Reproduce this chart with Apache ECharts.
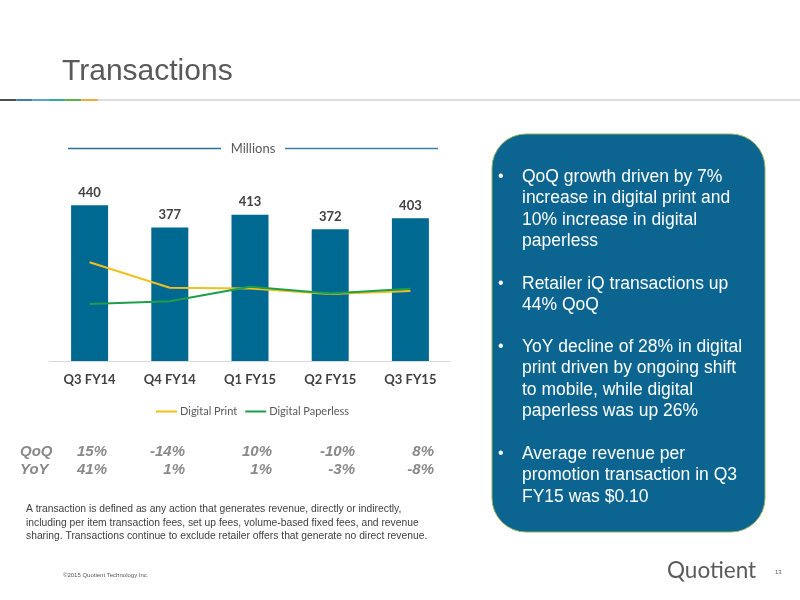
<!DOCTYPE html>
<html>
<head>
<meta charset="utf-8">
<title>Transactions</title>
<script src="https://cdn.jsdelivr.net/npm/echarts@6/dist/echarts.min.js"></script>
<style>
  html, body { margin: 0; padding: 0; background: #fff; }
  #chart { width: 800px; height: 600px; }
</style>
</head>
<body>
<div id="chart"></div>
<script>
// chart data
const quarters = ['Q3 FY14', 'Q4 FY14', 'Q1 FY15', 'Q2 FY15', 'Q3 FY15'];
const transactions = [440, 377, 413, 372, 403];
const digitalPrint = [279, 207, 205, 189, 198];
const digitalPaperless = [161, 169, 210, 191, 204];
const qoq = ['15%', '-14%', '10%', '-10%', '8%'];
const yoy = ['41%', '1%', '1%', '-3%', '-8%'];

const bullets = [
  'QoQ growth driven by 7%\nincrease in digital print and\n10% increase in digital\npaperless',
  'Retailer iQ transactions up\n44% QoQ',
  'YoY decline of 28% in digital\nprint driven by ongoing shift\nto mobile, while digital\npaperless was up 26%',
  'Average revenue per\npromotion transaction in Q3\nFY15 was $0.10'
];

const footnote = 'A transaction is defined as any action that generates revenue, directly or indirectly,\n' +
  'including per item transaction fees, set up fees, volume-based fixed fees, and revenue\n' +
  'sharing. Transactions continue to exclude retailer offers that generate no direct revenue.';

// layout
const GRID_LEFT = 49.5;
const GRID_WIDTH = 401;
const GRID_TOP = 184;
const GRID_HEIGHT = 177;
// right edges of the QoQ / YoY columns under each quarter
const pctRight = [107, 185, 272, 355, 434];

const SANS = '"Liberation Sans", Arial, sans-serif';
const CHART_FONT = 'Lato, "Open Sans", sans-serif';
const PCT_FONT = 'italic bold 15px ' + SANS;

const graphic = [];

// slide title and coloured rule
graphic.push({
  type: 'text', left: 62, top: 57,
  style: { text: 'Transactions', font: '30px ' + SANS, fill: '#595959' }
});
graphic.push({
  type: 'rect', shape: { x: 97, y: 99, width: 703, height: 2 },
  style: { fill: '#dcdde0' }
});
['#4b4f54', '#3d7cb6', '#5aa5c9', '#3aa99b', '#5fb04b', '#f2a93b'].forEach((c, i) => {
  graphic.push({
    type: 'rect', shape: { x: i * 16.3, y: 99, width: 16.3, height: 2 },
    style: { fill: c }
  });
});

// "Millions" header with side lines
graphic.push({
  type: 'line', shape: { x1: 68, y1: 148.5, x2: 221, y2: 148.5 },
  style: { stroke: '#2f6f94', lineWidth: 1.3 }
});
graphic.push({
  type: 'line', shape: { x1: 285, y1: 148.5, x2: 438, y2: 148.5 },
  style: { stroke: '#3a7fa3', lineWidth: 1.3 }
});
graphic.push({
  type: 'text', x: 253, y: 148.5,
  style: { text: 'Millions', font: '13px ' + CHART_FONT, fill: '#595959', align: 'center', verticalAlign: 'middle' }
});

// QoQ / YoY rows
graphic.push({
  type: 'text', x: 20, y: 451.5,
  style: { text: 'QoQ', font: PCT_FONT, fill: '#898989', verticalAlign: 'middle' }
});
graphic.push({
  type: 'text', x: 20, y: 470,
  style: { text: 'YoY', font: PCT_FONT, fill: '#898989', verticalAlign: 'middle' }
});
quarters.forEach((q, i) => {
  graphic.push({
    type: 'text', x: pctRight[i], y: 451.5,
    style: { text: qoq[i], font: PCT_FONT, fill: '#898989', align: 'right', verticalAlign: 'middle' }
  });
  graphic.push({
    type: 'text', x: pctRight[i], y: 470,
    style: { text: yoy[i], font: PCT_FONT, fill: '#898989', align: 'right', verticalAlign: 'middle' }
  });
});

// definition footnote
graphic.push({
  type: 'text', left: 26, top: 503,
  style: { text: footnote, font: '10.3px ' + SANS, fill: '#404040', lineHeight: 13.3 }
});

// blue side panel
graphic.push({
  type: 'rect', shape: { x: 492, y: 134, width: 273, height: 398, r: 34 },
  style: { fill: '#0b6590', stroke: '#8fb25a', lineWidth: 1 }
});
const paraTops = [166, 273, 336, 443];
bullets.forEach((b, i) => {
  graphic.push({
    type: 'text', left: 498, top: paraTops[i],
    style: { text: '•', font: '16px ' + SANS, fill: '#ffffff', lineHeight: 21.5 }
  });
  graphic.push({
    type: 'text', left: 522, top: paraTops[i],
    style: { text: b, font: '17.5px ' + SANS, fill: '#ffffff', lineHeight: 21.5 }
  });
});

// footer
graphic.push({
  type: 'text', left: 63, top: 572,
  style: { text: '©2015 Quotient Technology Inc.', font: '6px ' + SANS, fill: '#595959' }
});
graphic.push({
  type: 'text', left: 667, top: 559,
  style: { text: 'Quotient', font: '22.5px ' + CHART_FONT, fill: '#5a5a5a' }
});
graphic.push({
  type: 'text', left: 775, top: 569,
  style: { text: '13', font: '6px ' + SANS, fill: '#595959' }
});

const chart = echarts.init(document.getElementById('chart'));
chart.setOption({
  animation: false,
  backgroundColor: '#ffffff',
  grid: { left: GRID_LEFT, top: GRID_TOP, width: GRID_WIDTH, height: GRID_HEIGHT },
  legend: {
    left: 151, top: 401,
    itemWidth: 21, itemHeight: 2, itemGap: 8,
    icon: 'rect',
    data: ['Digital Print', 'Digital Paperless'],
    textStyle: { fontFamily: CHART_FONT, fontSize: 11, color: '#595959', padding: [0, 0, 0, -2] }
  },
  xAxis: {
    type: 'category',
    data: quarters,
    axisLine: { lineStyle: { color: '#d9d9d9', width: 1 } },
    axisTick: { show: false },
    axisLabel: { margin: 12, fontFamily: CHART_FONT, fontSize: 13, fontWeight: 'bold', color: '#404040' }
  },
  yAxis: {
    type: 'value', min: 0, max: 500, show: false,
    splitLine: { show: false }
  },
  series: [
    {
      name: 'Transactions',
      type: 'bar',
      data: transactions,
      barWidth: 37,
      itemStyle: { color: '#006991' },
      label: {
        show: true, position: 'top', distance: 6,
        fontFamily: CHART_FONT, fontSize: 13, fontWeight: 'bold', color: '#404040'
      }
    },
    {
      name: 'Digital Print',
      type: 'line',
      data: digitalPrint,
      symbol: 'none',
      lineStyle: { color: '#f0c020', width: 2 },
      itemStyle: { color: '#f0c020' }
    },
    {
      name: 'Digital Paperless',
      type: 'line',
      data: digitalPaperless,
      symbol: 'none',
      lineStyle: { color: '#1e9e4a', width: 2 },
      itemStyle: { color: '#1e9e4a' }
    }
  ],
  graphic: graphic
});
</script>
</body>
</html>
